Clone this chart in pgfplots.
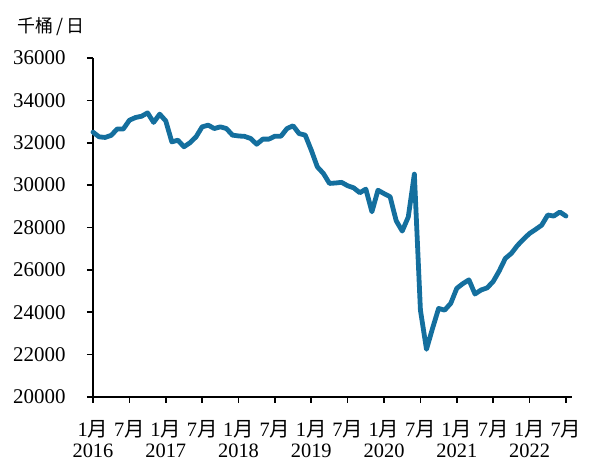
\documentclass[border=0pt]{standalone}
\usepackage{fontspec}
\setmainfont{Liberation Serif}
\newfontfamily\cjk{Noto Sans CJK SC}
\usepackage{pgfplots}
\usepackage{pgfplotstable}
\pgfplotsset{compat=1.18}
\definecolor{lc}{RGB}{20,111,158}
\pgfplotstableread{
m v
0 32500
1 32280
2 32250
3 32350
4 32650
5 32650
6 33060
7 33190
8 33250
9 33410
10 32960
11 33350
12 33030
13 32040
14 32120
15 31810
16 32000
17 32280
18 32750
19 32830
20 32670
21 32750
22 32670
23 32360
24 32320
25 32300
26 32200
27 31930
28 32170
29 32170
30 32310
31 32310
32 32670
33 32800
34 32430
35 32360
36 31650
37 30860
38 30550
39 30080
40 30100
41 30130
42 29970
43 29870
44 29640
45 29810
46 28740
47 29760
48 29600
49 29450
50 28320
51 27830
52 28500
53 30520
54 24100
55 22250
56 23240
57 24180
58 24100
59 24420
60 25130
61 25350
62 25530
63 24860
64 25050
65 25150
66 25450
67 25950
68 26540
69 26780
70 27150
71 27450
72 27720
73 27910
74 28110
75 28590
76 28540
77 28730
78 28540
}\data
\begin{document}
\begin{tikzpicture}[x=1bp,y=1bp]
\path[use as bounding box] (-93,-65) rectangle (500,397);
\begin{axis}[
  at={(0,0)}, anchor=south west, scale only axis,
  width=479bp, height=339bp,
  xmin=0, xmax=79, ymin=20000, ymax=36000,
  axis x line*=bottom, axis y line*=left,
  axis line style={-, line width=1.6pt, black},
  tick style={line width=1.6pt, black},
  tick align=outside, major tick length=6bp,
  ytick={20000,22000,...,36000},
  scaled y ticks=false,
  xtick={0,6,...,78},
  xticklabels={{1{\cjk 月}\\2016},{7{\cjk 月}},{1{\cjk 月}\\2017},{7{\cjk 月}},{1{\cjk 月}\\2018},{7{\cjk 月}},{1{\cjk 月}\\2019},{7{\cjk 月}},{1{\cjk 月}\\2020},{7{\cjk 月}},{1{\cjk 月}\\2021},{7{\cjk 月}},{1{\cjk 月}\\2022},{7{\cjk 月}}},
  xticklabel style={align=center, inner sep=0pt, font=\fontsize{20.5}{21}\selectfont, yshift=-17bp},
  yticklabel style={font=\fontsize{21}{24}\selectfont, xshift=-18bp},
  yticklabel={\pgfmathprintnumber[fixed,precision=0,1000 sep={}]{\tick}},
  /pgf/number format/assume math mode=true,
  /pgf/number format/1000 sep={},
  clip=false,
]
\addplot[lc, line width=4.8bp, line join=round, line cap=round] table[x=m,y=v] {\data};
\end{axis}
\node[anchor=base west, inner sep=0, font=\fontsize{18}{20}\selectfont] at (-76,364) {\cjk 千桶\,/\,日};
\end{tikzpicture}
\end{document}
